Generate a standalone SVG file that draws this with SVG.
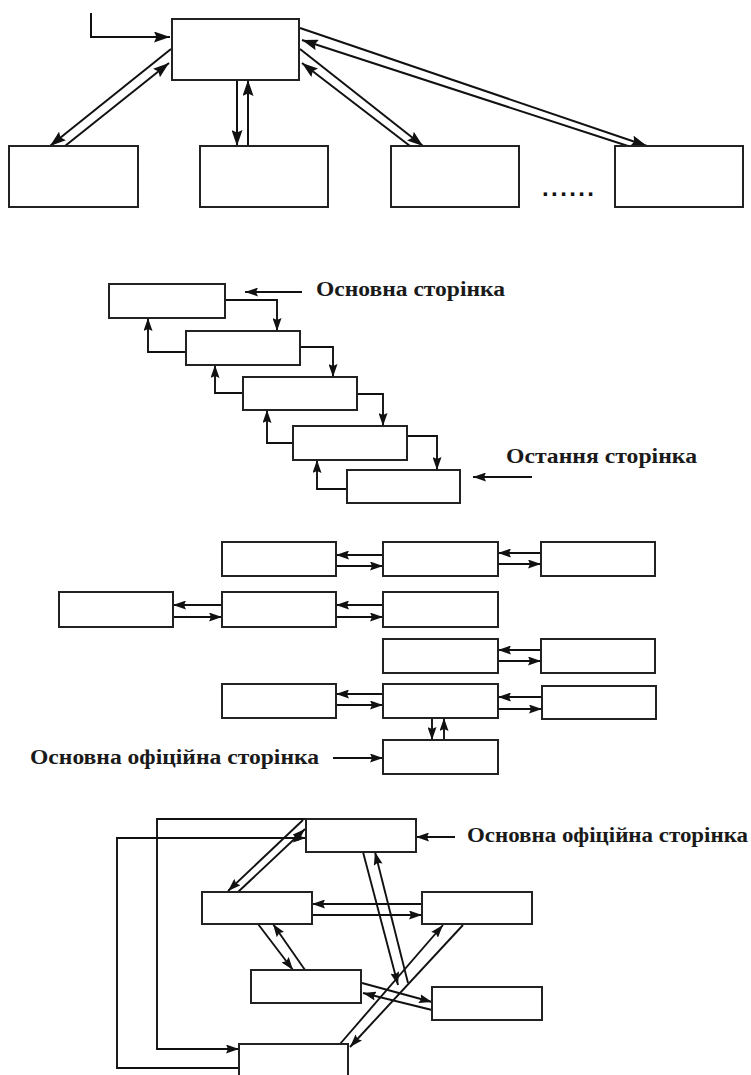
<svg xmlns="http://www.w3.org/2000/svg" width="751" height="1075" viewBox="0 0 751 1075">
<defs>
<style>
.box{fill:#fff;stroke:#222;stroke-width:2}
.ln{fill:none;stroke:#111;stroke-width:1.9;marker-end:url(#a)}
.lb{fill:none;stroke:#111;stroke-width:2;marker-end:url(#b)}
.lbl{font-family:"Liberation Serif",serif;font-weight:bold;font-size:20px;fill:#1a1a1a}
</style>
<marker id="a" viewBox="0 0 13 9" refX="13" refY="4.5" markerWidth="13" markerHeight="9" markerUnits="userSpaceOnUse" orient="auto">
<path d="M0,0 L13,4.5 L0,9 L2,4.5 z" fill="#111"/>
</marker>
<marker id="b" viewBox="0 0 16 11" refX="16" refY="5.5" markerWidth="16" markerHeight="11" markerUnits="userSpaceOnUse" orient="auto">
<path d="M0,0 L16,5.5 L0,11 L2.5,5.5 z" fill="#111"/>
</marker>
</defs>
<rect width="751" height="1075" fill="#fff"/>

<g id="connectors">
<!-- section 1 -->
<path class="lb" d="M91,13 V37 H170"/>
<path class="lb" d="M171,49 L50,146"/>
<path class="lb" d="M65,146 L169,63"/>
<path class="lb" d="M237,80 V146"/>
<path class="lb" d="M248,146 V80"/>
<path class="lb" d="M300,49 L423,146"/>
<path class="lb" d="M410,146 L302,63"/>
<path class="lb" d="M300,28 L647,146"/>
<path class="lb" d="M628,146 L302,40"/>
<!-- section 2 -->
<path class="ln" d="M225,300 H277 V331"/>
<path class="ln" d="M186,352 H148 V318"/>
<path class="ln" d="M300,347 H333 V377"/>
<path class="ln" d="M243,393 H215 V365"/>
<path class="ln" d="M357,394 H383 V426"/>
<path class="ln" d="M293,443 H267 V410"/>
<path class="ln" d="M407,436 H437 V470"/>
<path class="ln" d="M347,489 H317 V460"/>
<path class="ln" d="M302,292 H245"/>
<path class="ln" d="M532,477 H473"/>
<!-- section 3 -->
<path class="ln" d="M383,555 H336"/>
<path class="ln" d="M336,566 H383"/>
<path class="ln" d="M541,553 H498"/>
<path class="ln" d="M498,564 H541"/>
<path class="ln" d="M222,605 H173"/>
<path class="ln" d="M173,617 H222"/>
<path class="ln" d="M383,605 H336"/>
<path class="ln" d="M336,617 H383"/>
<path class="ln" d="M541,650 H498"/>
<path class="ln" d="M498,661 H541"/>
<path class="ln" d="M383,694 H336"/>
<path class="ln" d="M336,705 H383"/>
<path class="ln" d="M542,697 H498"/>
<path class="ln" d="M498,709 H542"/>
<path class="ln" d="M432,718 V740"/>
<path class="ln" d="M444,740 V718"/>
<path class="ln" d="M333,758 H383"/>
<!-- section 4 -->
<path class="ln" d="M306,819 H157 V1049 H239"/>
<path class="ln" d="M239,1068 H117 V838 H306"/>
<path class="ln" d="M303,820 L228,891"/>
<path class="ln" d="M238,892 L305,829"/>
<path class="ln" d="M422,904 H312"/>
<path class="ln" d="M312,915 H422"/>
<path class="ln" d="M258,924 L293,970"/>
<path class="ln" d="M305,970 L273,924"/>
<path class="ln" d="M363,852 L398,985"/>
<path class="ln" d="M408,983 L375,852"/>
<path class="ln" d="M362,983 L432,1002"/>
<path class="ln" d="M432,1010 L363,993"/>
<path class="ln" d="M340,1044 L443,925"/>
<path class="ln" d="M463,925 L350,1047"/>
<path class="ln" d="M455,837 H416"/>
</g>

<!-- section 1 nodes -->
<g id="s1-top"><rect class="box" x="172" y="19" width="127" height="61"/></g>
<g id="s1-b1"><rect class="box" x="9" y="146" width="129" height="61"/></g>
<g id="s1-b2"><rect class="box" x="200" y="146" width="128" height="61"/></g>
<g id="s1-b3"><rect class="box" x="391" y="146" width="128" height="61"/></g>
<g id="s1-b4"><rect class="box" x="615" y="146" width="128" height="61"/></g>
<g id="s1-dots"><text x="542" y="196" style="font-family:'Liberation Sans',sans-serif;font-weight:bold;font-size:24px;fill:#111" textLength="52" lengthAdjust="spacing">......</text></g>

<!-- section 2 nodes -->
<g id="s2-a"><rect class="box" x="109" y="284" width="116" height="34"/></g>
<g id="s2-b"><rect class="box" x="186" y="331" width="114" height="34"/></g>
<g id="s2-c"><rect class="box" x="243" y="377" width="114" height="33"/></g>
<g id="s2-d"><rect class="box" x="293" y="426" width="114" height="34"/></g>
<g id="s2-e"><rect class="box" x="347" y="470" width="113" height="33"/></g>
<g id="s2-label1"><text class="lbl" x="316" y="296" textLength="189" lengthAdjust="spacingAndGlyphs">Основна сторінка</text></g>
<g id="s2-label2"><text class="lbl" x="506" y="463" textLength="191" lengthAdjust="spacingAndGlyphs">Остання сторінка</text></g>

<!-- section 3 nodes -->
<g id="s3-r1a"><rect class="box" x="222" y="542" width="114" height="34"/></g>
<g id="s3-r1b"><rect class="box" x="383" y="542" width="115" height="34"/></g>
<g id="s3-r1c"><rect class="box" x="541" y="542" width="114" height="34"/></g>
<g id="s3-r2a"><rect class="box" x="59" y="592" width="114" height="35"/></g>
<g id="s3-r2b"><rect class="box" x="222" y="592" width="114" height="35"/></g>
<g id="s3-r2c"><rect class="box" x="383" y="592" width="115" height="35"/></g>
<g id="s3-r3a"><rect class="box" x="383" y="639" width="115" height="34"/></g>
<g id="s3-r3b"><rect class="box" x="541" y="639" width="114" height="34"/></g>
<g id="s3-r4a"><rect class="box" x="222" y="684" width="114" height="34"/></g>
<g id="s3-r4b"><rect class="box" x="383" y="684" width="115" height="34"/></g>
<g id="s3-r4c"><rect class="box" x="542" y="686" width="114" height="33"/></g>
<g id="s3-r5"><rect class="box" x="383" y="740" width="115" height="34"/></g>
<g id="s3-label"><text class="lbl" x="30" y="764" textLength="289" lengthAdjust="spacingAndGlyphs">Основна офіційна сторінка</text></g>

<!-- section 4 nodes -->
<g id="s4-t"><rect class="box" x="306" y="819" width="110" height="33"/></g>
<g id="s4-l"><rect class="box" x="202" y="892" width="110" height="32"/></g>
<g id="s4-r"><rect class="box" x="422" y="892" width="110" height="32"/></g>
<g id="s4-m"><rect class="box" x="251" y="970" width="110" height="33"/></g>
<g id="s4-s"><rect class="box" x="432" y="987" width="110" height="33"/></g>
<g id="s4-b"><rect class="box" x="239" y="1044" width="109" height="40"/></g>
<g id="s4-label"><text class="lbl" x="467" y="842" textLength="281" lengthAdjust="spacingAndGlyphs">Основна офіційна сторінка</text></g>
</svg>
